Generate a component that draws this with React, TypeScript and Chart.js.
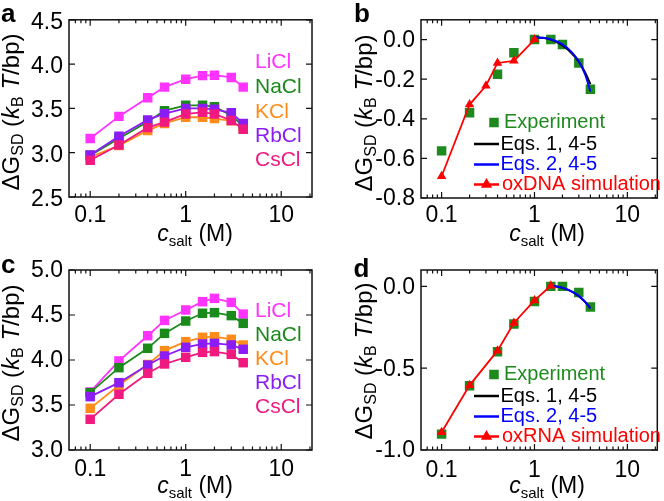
import React, { useEffect, useRef } from 'react';
import { Chart, registerables } from 'chart.js';
Chart.register(...registerables);

const FONT = "'Liberation Sans', Arial, Helvetica, sans-serif";
const AXIS = '#111111';

// ---------- data ----------
const SALT = [0.1, 0.2, 0.4, 0.6, 1, 1.5, 2, 3, 4];
const SALT_NAMES = ['LiCl', 'NaCl', 'KCl', 'RbCl', 'CsCl'];
const SALT_COLORS = ['#ff33ff', '#1a8a1a', '#ff8c1a', '#8b1cf5', '#f0197f'];

const X_TICKS = [0.07, 0.08, 0.09, 0.1, 0.2, 0.3, 0.4, 0.5, 0.6, 0.7, 0.8, 0.9, 1, 2, 3, 4, 5, 6, 7, 8, 9, 10, 20];
const X_LABELED = [0.1, 1, 10];

// panel a (DNA, ΔG per salt)
const A_LICL = [3.16, 3.41, 3.62, 3.74, 3.83, 3.87, 3.875, 3.85, 3.74];
const A_NACL = [2.97, 3.16, 3.35, 3.475, 3.535, 3.535, 3.52, 3.42, 3.3];
const A_KCL = [2.95, 3.08, 3.25, 3.33, 3.4, 3.4, 3.385, 3.36, 3.27];
const A_RBCL = [2.975, 3.185, 3.37, 3.44, 3.5, 3.5, 3.49, 3.45, 3.33];
const A_CSCL = [2.915, 3.087, 3.283, 3.345, 3.438, 3.456, 3.438, 3.364, 3.264];
const A_Y_TICKS = [2.5, 3.0, 3.5, 4.0, 4.5];

// panel c (RNA, ΔG per salt)
const C_LICL = [3.645, 3.99, 4.27, 4.44, 4.556, 4.648, 4.685, 4.64, 4.51];
const C_NACL = [3.637, 3.915, 4.13, 4.296, 4.433, 4.519, 4.526, 4.493, 4.407];
const C_KCL = [3.463, 3.72, 3.95, 4.104, 4.204, 4.252, 4.259, 4.23, 4.167];
const C_RBCL = [3.593, 3.748, 3.944, 4.044, 4.141, 4.178, 4.185, 4.167, 4.119];
const C_CSCL = [3.341, 3.619, 3.852, 3.956, 4.03, 4.085, 4.093, 4.063, 3.97];
const C_Y_TICKS = [3.0, 3.5, 4.0, 4.5, 5.0];

// panel b (DNA, relative ΔG)
const B_EXP = [-0.562, -0.369, -0.175, -0.066, 0.0, 0.0, -0.025, -0.118, -0.251];
const B_OX_X = [0.1, 0.2, 0.3, 0.4, 0.6, 1];
const B_OX = [-0.69, -0.328, -0.233, -0.118, -0.107, 0.0];
const B_FIT_X = [1, 1.25, 1.5, 2, 2.5, 3, 3.5, 4];
const B_EQ1 = [0.012, 0.008, 0.0, -0.03, -0.068, -0.112, -0.165, -0.225];
const B_EQ2 = [0.012, 0.009, 0.002, -0.024, -0.062, -0.11, -0.175, -0.262];
const B_Y_TICKS = [-0.8, -0.6, -0.4, -0.2, 0.0];

// panel d (RNA, relative ΔG)
const D_EXP = [-0.903, -0.608, -0.4, -0.23, -0.092, 0.0, 0.0, -0.037, -0.126];
const D_OX_X = [0.1, 0.2, 0.4, 0.6, 1, 1.5];
const D_OX = [-0.891, -0.605, -0.393, -0.224, -0.086, 0.004];
const D_FIT_X = [1.5, 2, 2.5, 3, 3.5, 4];
const D_EQ1 = [0.004, -0.009, -0.031, -0.06, -0.095, -0.133];
const D_EQ2 = [0.004, -0.008, -0.03, -0.058, -0.094, -0.136];
const D_Y_TICKS = [-1.0, -0.5, 0.0];

const EXP_GREEN = '#1e8a1e';
const RED = '#ff0000';
const BLUE = '#0000ff';

// ---------- helpers ----------
const xy = (xs: number[], ys: number[]) => xs.map((x, i) => ({ x, y: ys[i] }));

type Seg = { t: string; size: number; italic?: boolean; bold?: boolean; dy?: number };
const segFont = (s: Seg) => `${s.italic ? 'italic ' : ''}${s.bold ? 'bold ' : ''}${s.size}px ${FONT}`;
function drawRich(ctx: CanvasRenderingContext2D, segs: Seg[], x: number, y: number, center: boolean) {
  let w = 0;
  for (const s of segs) { ctx.font = segFont(s); w += ctx.measureText(s.t).width; }
  let cx = center ? x - w / 2 : x;
  ctx.textAlign = 'left';
  ctx.textBaseline = 'alphabetic';
  for (const s of segs) {
    ctx.font = segFont(s);
    ctx.fillText(s.t, cx, y + (s.dy || 0));
    cx += ctx.measureText(s.t).width;
  }
}

const Y_TITLE: Seg[] = [
  { t: 'ΔG', size: 24 }, { t: 'SD', size: 16, dy: 4 }, { t: ' (', size: 24 },
  { t: 'k', size: 24, italic: true }, { t: 'B', size: 16, dy: 4 }, { t: ' ', size: 24 },
  { t: 'T', size: 24, italic: true }, { t: '/bp)', size: 24 },
];
const X_TITLE: Seg[] = [
  { t: 'c', size: 23, italic: true }, { t: 'salt', size: 15, dy: 5 }, { t: ' (M)', size: 23 },
];

type Deco = {
  letter: string; letterX: number; letterY: number;
  yTitleX: number; yTitleY: number; xTitleX: number; xTitleY: number;
  yTicks: number[];
  saltLegend?: number[];
  simLegend?: string;
};

function decoPlugin(d: Deco) {
  return {
    id: 'deco',
    afterDraw(chart: any) {
      const ctx: CanvasRenderingContext2D = chart.ctx;
      const a = chart.chartArea;
      const xs = chart.scales.x, ys = chart.scales.y;
      ctx.save();
      // frame
      ctx.strokeStyle = AXIS;
      ctx.lineWidth = 1.5;
      ctx.strokeRect(a.left, a.top, a.right - a.left, a.bottom - a.top);
      // inward ticks
      ctx.lineWidth = 1.2;
      ctx.beginPath();
      for (const v of X_TICKS) {
        const px = xs.getPixelForValue(v);
        const L = X_LABELED.includes(v) ? 6 : 3.5;
        ctx.moveTo(px, a.bottom); ctx.lineTo(px, a.bottom - L);
        ctx.moveTo(px, a.top); ctx.lineTo(px, a.top + L);
      }
      for (const v of d.yTicks) {
        const py = ys.getPixelForValue(v);
        ctx.moveTo(a.left, py); ctx.lineTo(a.left + 6, py);
        ctx.moveTo(a.right, py); ctx.lineTo(a.right - 6, py);
      }
      ctx.stroke();

      ctx.fillStyle = '#000';
      // panel letter
      drawRich(ctx, [{ t: d.letter, size: 26, bold: true }], d.letterX, d.letterY, false);
      // x title
      drawRich(ctx, X_TITLE, d.xTitleX, d.xTitleY, true);
      // y title
      ctx.save();
      ctx.translate(d.yTitleX, d.yTitleY);
      ctx.rotate(-Math.PI / 2);
      drawRich(ctx, Y_TITLE, 0, 0, true);
      ctx.restore();

      // salt legend
      if (d.saltLegend) {
        ctx.font = `21px ${FONT}`;
        ctx.textAlign = 'left';
        ctx.textBaseline = 'middle';
        SALT_NAMES.forEach((n, i) => {
          ctx.fillStyle = SALT_COLORS[i];
          ctx.fillText(n, 255, d.saltLegend![i]);
        });
      }
      // simulation legend
      if (d.simLegend) {
        const rows = [-75.5, -54, -33.5, -13.5].map((o) => a.bottom + o);
        ctx.font = `20px ${FONT}`;
        ctx.textAlign = 'left';
        ctx.textBaseline = 'middle';
        ctx.fillStyle = EXP_GREEN;
        ctx.fillRect(162 - 4.75, rows[0] - 4.75, 9.5, 9.5);
        ctx.fillText('Experiment', 172, rows[0]);
        const lineRow = (y: number, col: string) => {
          ctx.strokeStyle = col; ctx.lineWidth = 2.5;
          ctx.beginPath(); ctx.moveTo(142, y); ctx.lineTo(167, y); ctx.stroke();
        };
        lineRow(rows[1], '#000'); ctx.fillStyle = '#000'; ctx.fillText('Eqs. 1, 4-5', 168.5, rows[1]);
        lineRow(rows[2], BLUE); ctx.fillStyle = BLUE; ctx.fillText('Eqs. 2, 4-5', 168.5, rows[2]);
        lineRow(rows[3], RED);
        ctx.fillStyle = RED;
        const r = 6.5, tx = 154.5, ty = rows[3];
        ctx.beginPath();
        ctx.moveTo(tx, ty - r);
        ctx.lineTo(tx + r * 0.866, ty + r * 0.5);
        ctx.lineTo(tx - r * 0.866, ty + r * 0.5);
        ctx.closePath(); ctx.fill();
        ctx.fillText(d.simLegend, 170, rows[3]);
      }
      ctx.restore();
    },
  };
}

type Geo = { yMin: number; yMax: number; yTicks: number[]; yW: number; xH: number; padTop: number; padRight: number; xPad: number; yOff: number };

function makeOptions(g: Geo) {
  return {
    responsive: false,
    animation: false,
    devicePixelRatio: 1,
    layout: { padding: { top: g.padTop, right: g.padRight, bottom: 0, left: 0 } },
    plugins: { legend: { display: false }, tooltip: { enabled: false } },
    scales: {
      x: {
        type: 'logarithmic',
        position: 'bottom',
        min: 0.06,
        max: 21,
        grid: { display: false, drawTicks: false },
        border: { display: false },
        afterBuildTicks: (s: any) => { s.ticks = X_TICKS.map((v) => ({ value: v })); },
        afterFit: (s: any) => { s.height = g.xH; },
        ticks: {
          autoSkip: false, maxRotation: 0, minRotation: 0, padding: g.xPad, color: '#000',
          font: { family: FONT, size: 23 },
          callback: (v: any) => (X_LABELED.includes(Number(v)) ? String(Number(v)) : ''),
        },
      },
      y: {
        type: 'linear',
        min: g.yMin,
        max: g.yMax,
        grid: { display: false, drawTicks: false },
        border: { display: false },
        afterBuildTicks: (s: any) => { s.ticks = g.yTicks.map((v) => ({ value: v })); },
        afterFit: (s: any) => { s.width = g.yW; },
        ticks: {
          padding: 6, labelOffset: g.yOff, color: '#000',
          font: { family: FONT, size: 23 },
          callback: (v: any) => Number(v).toFixed(1),
        },
      },
    },
  };
}

function saltDatasets(series: number[][]) {
  return series.map((ys, i) => ({
    label: SALT_NAMES[i],
    data: xy(SALT, ys),
    borderColor: SALT_COLORS[i],
    backgroundColor: SALT_COLORS[i],
    borderWidth: 1.8,
    pointStyle: 'rect',
    pointRadius: 6.7,
    pointBorderWidth: 0,
    pointBackgroundColor: SALT_COLORS[i],
    order: series.length - i,
  }));
}

function simDatasets(exp: number[], fitX: number[], eq1: number[], eq2: number[], oxX: number[], ox: number[], oxLabel: string) {
  return [
    {
      label: oxLabel, data: xy(oxX, ox), borderColor: RED, backgroundColor: RED, borderWidth: 1.8,
      pointStyle: 'triangle', pointRadius: 5.5, pointBorderWidth: 0, pointBackgroundColor: RED, order: 1,
    },
    {
      label: 'Eqs. 2, 4-5', data: xy(fitX, eq2), borderColor: BLUE, borderWidth: 2, pointRadius: 0,
      cubicInterpolationMode: 'monotone', order: 2,
    },
    {
      label: 'Eqs. 1, 4-5', data: xy(fitX, eq1), borderColor: '#000', borderWidth: 2, pointRadius: 0,
      cubicInterpolationMode: 'monotone', order: 3,
    },
    {
      label: 'Experiment', data: xy(SALT, exp), showLine: false, borderColor: EXP_GREEN,
      backgroundColor: EXP_GREEN, pointStyle: 'rect', pointRadius: 6.7, pointBorderWidth: 0,
      pointBackgroundColor: EXP_GREEN, order: 4,
    },
  ];
}

type PanelSpec = { left: number; top: number; w: number; h: number; config: any };

const PANELS: PanelSpec[] = [
  {
    left: 0, top: 0, w: 332, h: 250,
    config: {
      type: 'line',
      data: { datasets: saltDatasets([A_LICL, A_NACL, A_KCL, A_RBCL, A_CSCL]) },
      options: makeOptions({ yMin: 2.5, yMax: 4.5, yTicks: A_Y_TICKS, yW: 69, xH: 53, padTop: 17, padRight: 20, xPad: 5, yOff: 2.5 }),
      plugins: [decoPlugin({ letter: 'a', letterX: 1, letterY: 21.5, yTitleX: 18.5, yTitleY: 112, xTitleX: 195, xTitleY: 240.5, yTicks: A_Y_TICKS, saltLegend: [62, 87, 112, 136, 160] })],
    },
  },
  {
    left: 332, top: 0, w: 332, h: 250,
    config: {
      type: 'line',
      data: { datasets: simDatasets(B_EXP, B_FIT_X, B_EQ1, B_EQ2, B_OX_X, B_OX, 'oxDNA simulation') },
      options: makeOptions({ yMin: -0.8, yMax: 0.1, yTicks: B_Y_TICKS, yW: 89, xH: 52, padTop: 16, padRight: 1, xPad: 4, yOff: 1 }),
      plugins: [decoPlugin({ letter: 'b', letterX: 22, letterY: 22, yTitleX: 39.5, yTitleY: 113, xTitleX: 215, xTitleY: 240.5, yTicks: B_Y_TICKS, simLegend: 'oxDNA simulation' })],
    },
  },
  {
    left: 0, top: 250, w: 332, h: 251,
    config: {
      type: 'line',
      data: { datasets: saltDatasets([C_LICL, C_NACL, C_KCL, C_RBCL, C_CSCL]) },
      options: makeOptions({ yMin: 3.0, yMax: 5.0, yTicks: C_Y_TICKS, yW: 69, xH: 51, padTop: 20, padRight: 20, xPad: 6, yOff: 1 }),
      plugins: [decoPlugin({ letter: 'c', letterX: 1, letterY: 23, yTitleX: 18.5, yTitleY: 113, xTitleX: 195, xTitleY: 242.5, yTicks: C_Y_TICKS, saltLegend: [61, 85, 109, 133, 157.5] })],
    },
  },
  {
    left: 332, top: 250, w: 332, h: 251,
    config: {
      type: 'line',
      data: { datasets: simDatasets(D_EXP, D_FIT_X, D_EQ1, D_EQ2, D_OX_X, D_OX, 'oxRNA simulation') },
      options: makeOptions({ yMin: -1.0, yMax: 0.1, yTicks: D_Y_TICKS, yW: 89, xH: 51, padTop: 20, padRight: 1, xPad: 7, yOff: 1 }),
      plugins: [decoPlugin({ letter: 'd', letterX: 21.5, letterY: 26.5, yTitleX: 39.5, yTitleY: 111, xTitleX: 215, xTitleY: 242.5, yTicks: D_Y_TICKS, simLegend: 'oxRNA simulation' })],
    },
  },
];

function Panel({ spec }: { spec: PanelSpec }) {
  const ref = useRef<HTMLCanvasElement>(null);
  useEffect(() => {
    const chart = new Chart(ref.current as HTMLCanvasElement, spec.config);
    return () => chart.destroy();
  }, [spec]);
  return (
    <canvas
      ref={ref}
      width={spec.w}
      height={spec.h}
      style={{ position: 'absolute', left: spec.left, top: spec.top, width: spec.w, height: spec.h }}
    />
  );
}

export default function App() {
  return (
    <div style={{ position: 'fixed', left: 0, top: 0, width: 664, height: 501, background: '#fff', overflow: 'hidden' }}>
      {PANELS.map((p, i) => (
        <Panel key={i} spec={p} />
      ))}
    </div>
  );
}
